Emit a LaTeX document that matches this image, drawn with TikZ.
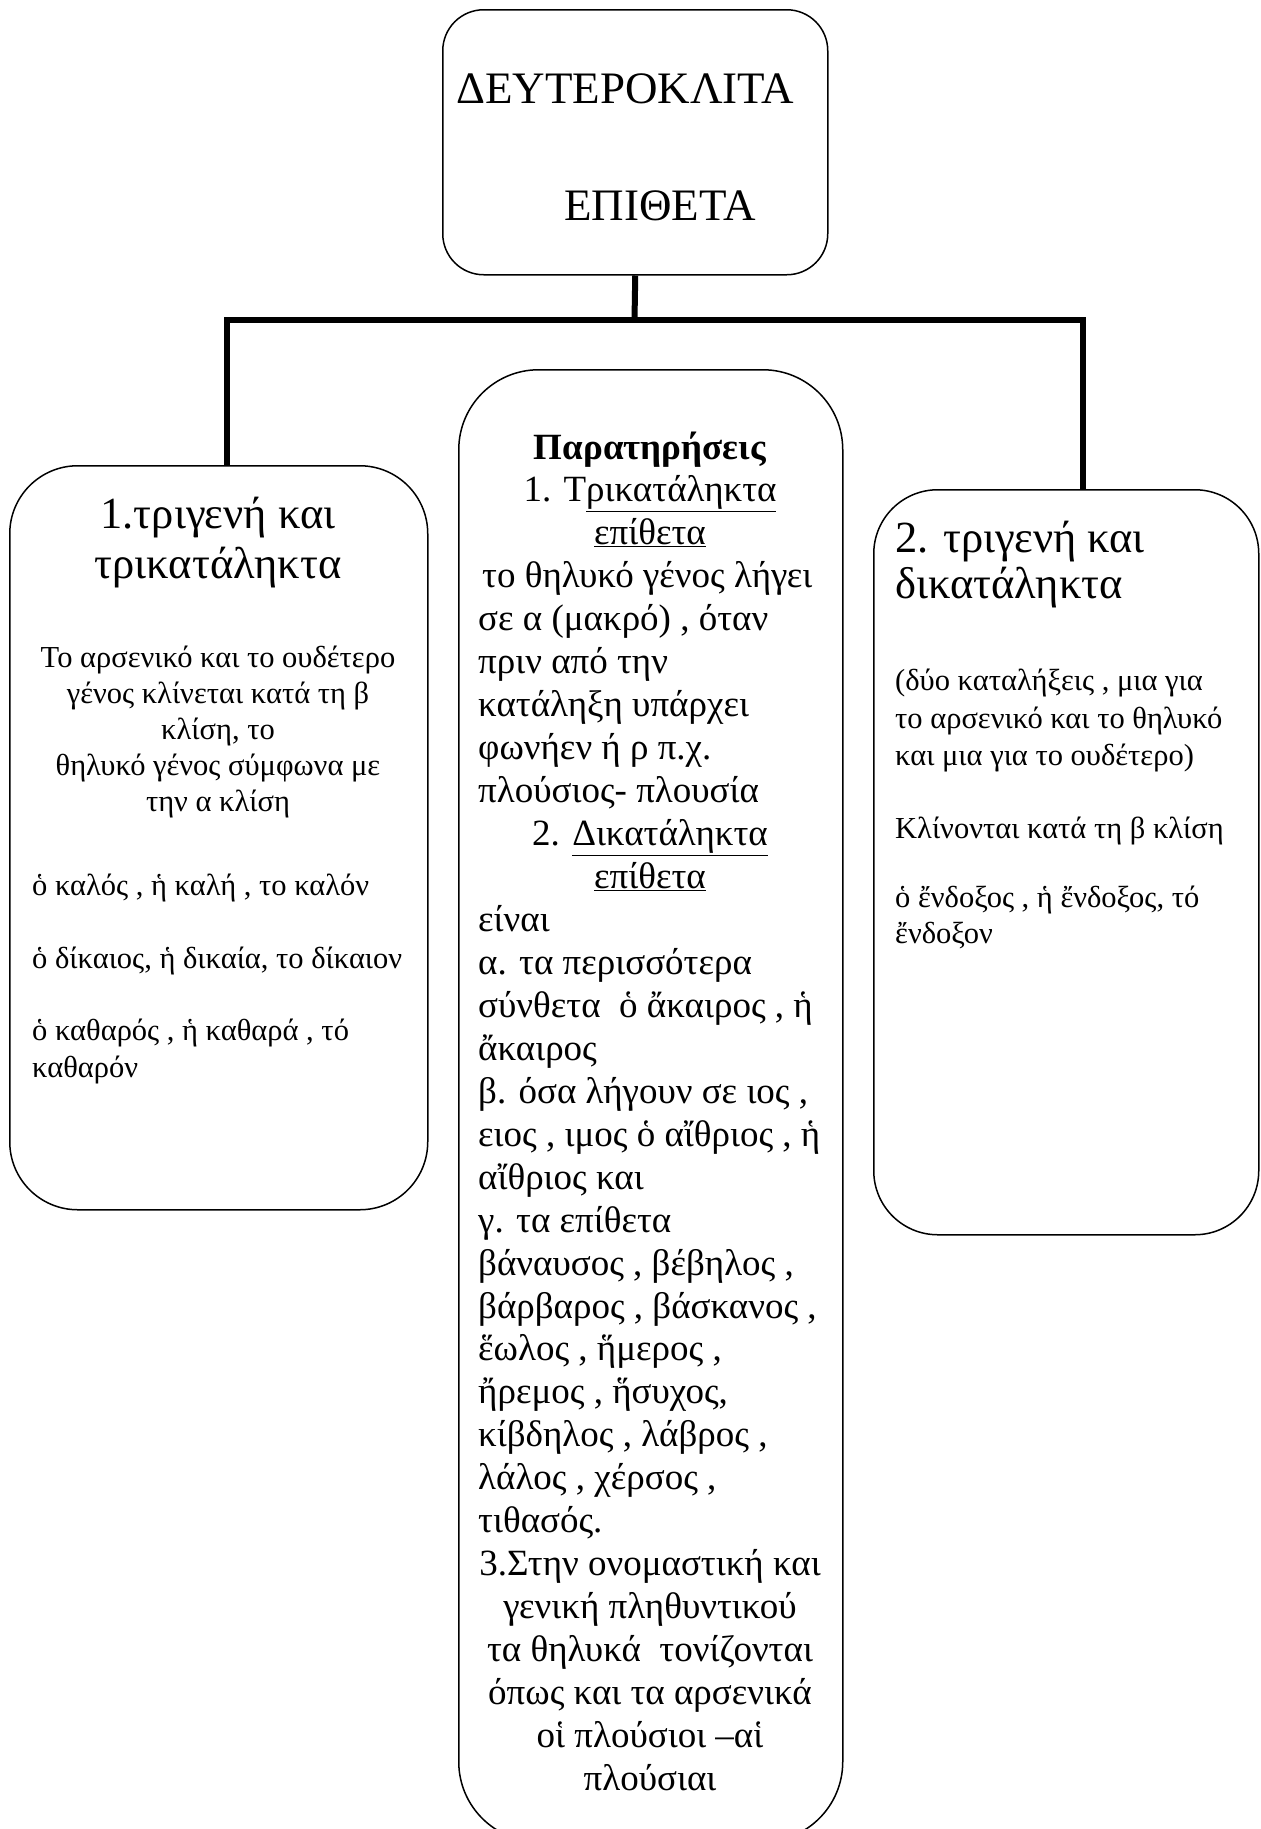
\documentclass[tikz,border=0pt]{standalone}
\usepackage{fontspec}
\setmainfont{Liberation Serif}
\tikzset{
  box/.style={draw, line width=1.5pt, anchor=north west, inner sep=0pt},
  conn/.style={line width=6pt},
  txt/.style={inner sep=0pt},
  ttl/.style={font=\fontsize{45}{54}\selectfont},
  head/.style={font=\fontsize{44.5}{50}\selectfont},
  big/.style={font=\fontsize{37}{43}\selectfont},
  small/.style={font=\fontsize{30.5}{36}\selectfont},
}
\begin{document}
\begin{tikzpicture}[x=1pt, y=-1pt]
\useasboundingbox (0,0) rectangle (1261,1829);

% boxes
\node[box, rounded corners=41pt, minimum width=385pt, minimum height=265pt] (title) at (442,9) {};
\node[box, rounded corners=68pt, minimum width=418pt, minimum height=744pt] (lbox) at (9,465) {};
\node[box, rounded corners=80pt, minimum width=384pt, minimum height=1472pt] (mbox) at (458,369) {};
\node[box, rounded corners=64pt, minimum width=385pt, minimum height=745pt] (rbox) at (873,489) {};

% connectors
\coordinate (hub) at (634.5,320);
\draw[conn] (title.south) -- (hub);
\draw[conn] (hub) -| ([xshift=8pt]lbox.north);
\draw[conn] (hub) -| ([xshift=16.5pt]rbox.north);

% title
\node[txt, ttl, anchor=base west] (t1) at (456,103) {ΔΕΥΤΕΡΟΚΛΙΤΑ};
\node[txt, ttl, anchor=base west] (t2) at (564,220) {ΕΠΙΘΕΤΑ};

% left box
\node[txt, head, anchor=base] (lh1) at (218,528) {1.τριγενή και};
\node[txt, head, anchor=base] (lh2) at (218,578) {τρικατάληκτα};
\foreach \t [count=\i] in {Το αρσενικό και το ουδέτερο, γένος κλίνεται κατά  τη β,
    {κλίση, το}, θηλυκό γένος σύμφωνα με, την α κλίση}
  \node[txt, small, anchor=base] (lc\i) at (218,630.8+36.2*\i) {\t};
\foreach \y/\t [count=\i] in {895/{ὁ καλός , ἡ καλή , το καλόν},
    968/{ὁ δίκαιος, ἡ δικαία, το δίκαιον}, 1040/{ὁ καθαρός , ἡ καθαρά , τό}, 1077/καθαρόν}
  \node[txt, small, anchor=base west] (ll\i) at (32,\y) {\t};

% middle box
\foreach \x/\a/\t [count=\k from 0] in {
    650/base/\textbf{Παρατηρήσεις},
    650/base/{1. Τ\underline{ρικατάληκτα}},
    650/base/\underline{επίθετα},
    482/base west/το θηλυκό γένος λήγει,
    478/base west/{σε α (μακρό) , όταν},
    478/base west/πριν από την,
    478/base west/κατάληξη υπάρχει,
    478/base west/φωνήεν ή ρ π.χ.,
    478/base west/πλούσιος- πλουσία,
    650/base/{2. \underline{Δικατάληκτα}},
    650/base/\underline{επίθετα},
    478/base west/είναι,
    478/base west/α. τα περισσότερα,
    478/base west/{σύνθετα\ \ ὁ ἄκαιρος , ἡ},
    478/base west/ἄκαιρος,
    478/base west/{β. όσα λήγουν σε ιος ,},
    478/base west/{ειος , ιμος\ ὁ αἴθριος , ἡ},
    478/base west/αἴθριος και,
    478/base west/γ. τα επίθετα,
    478/base west/{βάναυσος , βέβηλος ,},
    478/base west/{βάρβαρος , βάσκανος ,},
    478/base west/{ἕωλος , ἥμερος ,},
    478/base west/{ἤρεμος , ἥσυχος,},
    478/base west/{κίβδηλος , λάβρος ,},
    478/base west/{λάλος , χέρσος ,},
    478/base west/τιθασός.,
    650/base/3.Στην ονομαστική και,
    650/base/γενική πληθυντικού,
    650/base/{τα θηλυκά\ \ τονίζονται},
    650/base/όπως και τα αρσενικά,
    650/base/οἱ πλούσιοι –αἱ,
    650/base/πλούσιαι}
  \node[txt, big, anchor=\a] (m\k) at (\x,459+42.95*\k) {\t};

% right box
\node[txt, head, anchor=base west] (rh1) at (895,552) {2. τριγενή και};
\node[txt, head, anchor=base west] (rh2) at (895,598) {δικατάληκτα};
\foreach \y/\t [count=\i] in {690/{(δύο καταλήξεις , μια για}, 728/το αρσενικό και το θηλυκό,
    765/και μια για το ουδέτερο), 838/Κλίνονται κατά τη β κλίση,
    907/{ὁ ἔνδοξος , ἡ ἔνδοξος, τό}, 943/ἔνδοξον}
  \node[txt, small, anchor=base west] (rl\i) at (895,\y) {\t};
\end{tikzpicture}
\end{document}
